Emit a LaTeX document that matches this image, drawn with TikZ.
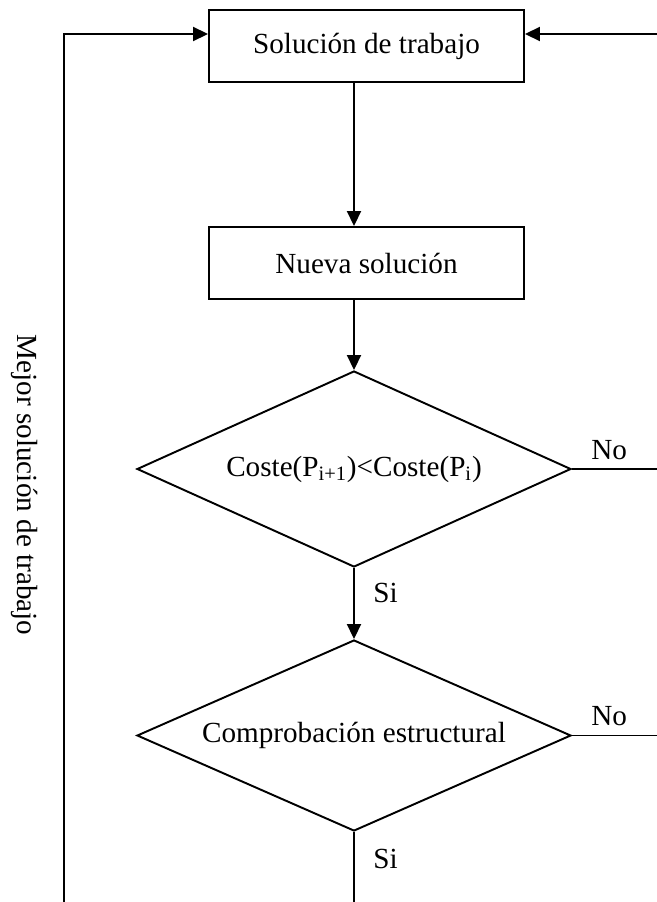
\documentclass[tikz,border=0pt]{standalone}
\usepackage{fontspec}
\setmainfont{Liberation Serif}
\usetikzlibrary{positioning,calc,arrows.meta,shapes.geometric}

\begin{document}
\begin{tikzpicture}[line width=1.1pt,
  every node/.style={font=\fontsize{16.6pt}{20pt}\selectfont},
  caja/.style={rectangle,draw,minimum width=6.3cm,minimum height=1.44cm,inner sep=0pt},
  decision/.style={diamond,draw,aspect=2.2,minimum width=8.68cm,inner sep=0pt},
  flecha/.style={-{Triangle[length=0.3cm,width=0.28cm]}}]
\useasboundingbox (0,0) rectangle (13.12,-18.04);

\node[caja] (sol) at (7.33,-0.92) {Solución de trabajo};
\node[caja] (nueva) at (7.33,-5.26) {Nueva solución};
\node[decision,minimum height=3.92cm] (coste) at (7.08,-9.38) {Coste(P\textsubscript{i+1})<Coste(P\textsubscript{i})};
\node[decision,minimum height=3.82cm] (comp) at (7.08,-14.71) {Comprobación estructural};
\node[rotate=-90] (mejor) at (0.5,-9.7) {Mejor solución de trabajo};

\coordinate (izq) at (1.28,-18.3);
\coordinate (der) at (13.3,-0.68);
\coordinate (fin) at (7.08,-18.3);

\draw[flecha] (sol.south -| coste) -- (nueva.north -| coste);
\draw[flecha] (nueva.south -| coste) -- (coste.north);
\draw[flecha] (coste.south) -- (comp.north) node[pos=0.35,right=0.25cm] {Si};
\draw (comp.south) -- (fin) node[pos=0.33,right=0.25cm] {Si};
\draw (coste.east) -- (coste.east -| der) node[pos=0.4,above=0.05cm] {No};
\draw (comp.east) -- (comp.east -| der) node[pos=0.4,above=0.05cm] {No};
\draw[flecha] (comp.east -| der) -- (der) -- ($(sol.east)+(0,0.24)$);
\draw[flecha] (izq) |- ($(sol.west)+(0,0.24)$);
\end{tikzpicture}
\end{document}
